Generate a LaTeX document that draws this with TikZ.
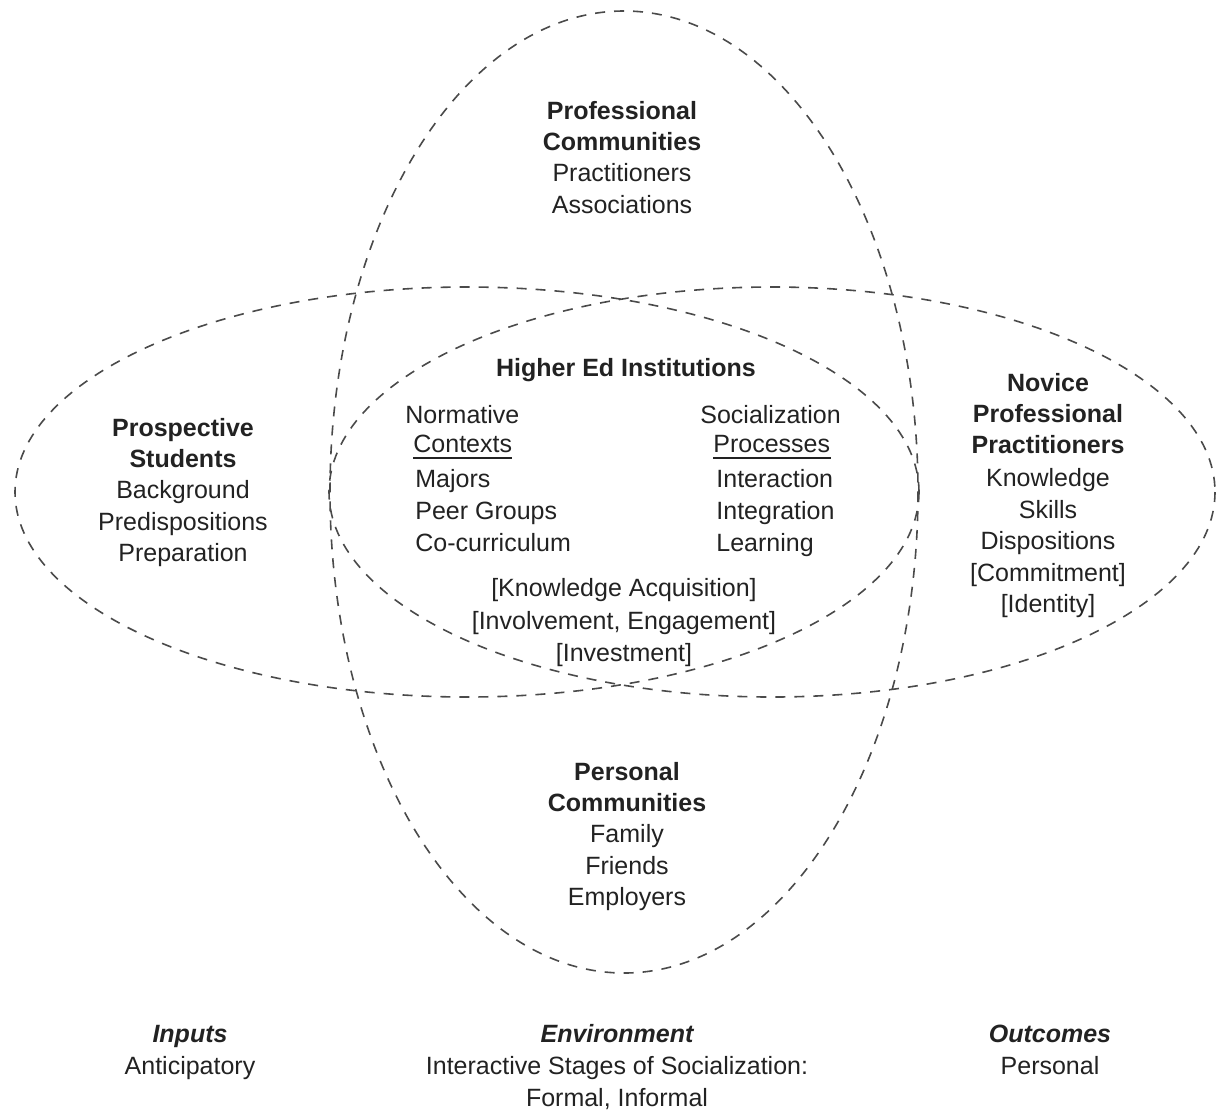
\documentclass[tikz,border=0pt]{standalone}
\usepackage{fontspec}
\setmainfont{Liberation Sans}
\usepackage{xcolor}
\definecolor{InkGray}{HTML}{222222}
\definecolor{LineGray}{HTML}{4a4a4a}
\usepackage{tikz}

\tikzset{
  region/.style={draw=LineGray, line width=0.8pt, dash pattern=on 5pt off 4.5pt},
  lbl/.style={font=\fontsize{12.5}{15}\selectfont, text=InkGray, inner sep=0pt, anchor=base},
  lblw/.style={lbl, anchor=base west},
  head/.style={lbl, font=\fontsize{12.5}{15}\selectfont\bfseries},
  foot/.style={lbl, font=\fontsize{12.5}{15}\selectfont\bfseries\itshape},
}

\begin{document}
\begin{tikzpicture}[x=0.5pt, y=-0.5pt]
  \useasboundingbox (0,0) rectangle (1219,1110);
  % the three overlapping regions
  \draw[region] (624,492) ellipse [x radius=294, y radius=481];
  \draw[region] (467,492) ellipse [x radius=452, y radius=205];
  \draw[region] (772,492) ellipse [x radius=443, y radius=205];

  % professional communities
  \node[head] (profA) at (622,119) {Professional};
  \node[head] (profB) at (622,150) {Communities};
  \foreach \t [count=\i] in {Practitioners, Associations}
    \node[lbl] (prof\i) at (622,150+31.5*\i) {\t};

  % prospective students
  \node[head] (prospA) at (183,436) {Prospective};
  \node[head] (prospB) at (183,467) {Students};
  \foreach \t [count=\i] in {Background, Predispositions, Preparation}
    \node[lbl] (prosp\i) at (183,467+31.5*\i) {\t};

  % novice practitioners
  \node[head] (novA) at (1048,391) {Novice};
  \node[head] (novB) at (1048,422) {Professional};
  \node[head] (novC) at (1048,453) {Practitioners};
  \foreach \t [count=\i] in {Knowledge, Skills, Dispositions, {[Commitment]}, {[Identity]}}
    \node[lbl] (nov\i) at (1048,455+31.5*\i) {\t};

  % higher ed institutions
  \node[head] (hei) at (626,376) {Higher Ed Institutions};
  \node[lblw] (norm) at (405,423) {Normative};
  \node[lblw] (ctx) at (413,452) {Contexts};
  \draw[InkGray, line width=0.6pt] ([yshift=-3pt]ctx.base west) -- ([yshift=-3pt]ctx.base east);
  \foreach \t [count=\i] in {Majors, Peer Groups, Co-curriculum}
    \node[lblw] (ctx\i) at (415,455+32*\i) {\t};
  \node[lblw] (soc) at (700,423) {Socialization};
  \node[lblw] (proc) at (713,452) {Processes};
  \draw[InkGray, line width=0.6pt] ([yshift=-3pt]proc.base west) -- ([yshift=-3pt]proc.base east);
  \foreach \t [count=\i] in {Interaction, Integration, Learning}
    \node[lblw] (proc\i) at (716,455+32*\i) {\t};
  \foreach \t [count=\i] in {{[Knowledge Acquisition]}, {[Involvement, Engagement]}, {[Investment]}}
    \node[lbl] (inv\i) at (624,564+32.5*\i) {\t};

  % personal communities
  \node[head] (persA) at (627,780) {Personal};
  \node[head] (persB) at (627,811) {Communities};
  \foreach \t [count=\i] in {Family, Friends, Employers}
    \node[lbl] (pers\i) at (627,811+31.5*\i) {\t};

  % stages along the bottom
  \node[foot] (inputs) at (190,1042) {Inputs};
  \node[lbl] (antic) at (190,1074) {Anticipatory};
  \node[foot] (envir) at (617,1042) {Environment};
  \node[lbl] (stages) at (617,1074) {Interactive Stages of Socialization:};
  \node[lbl] (formal) at (617,1106) {Formal, Informal};
  \node[foot] (outc) at (1050,1042) {Outcomes};
  \node[lbl] (pers) at (1050,1074) {Personal};
\end{tikzpicture}
\end{document}
